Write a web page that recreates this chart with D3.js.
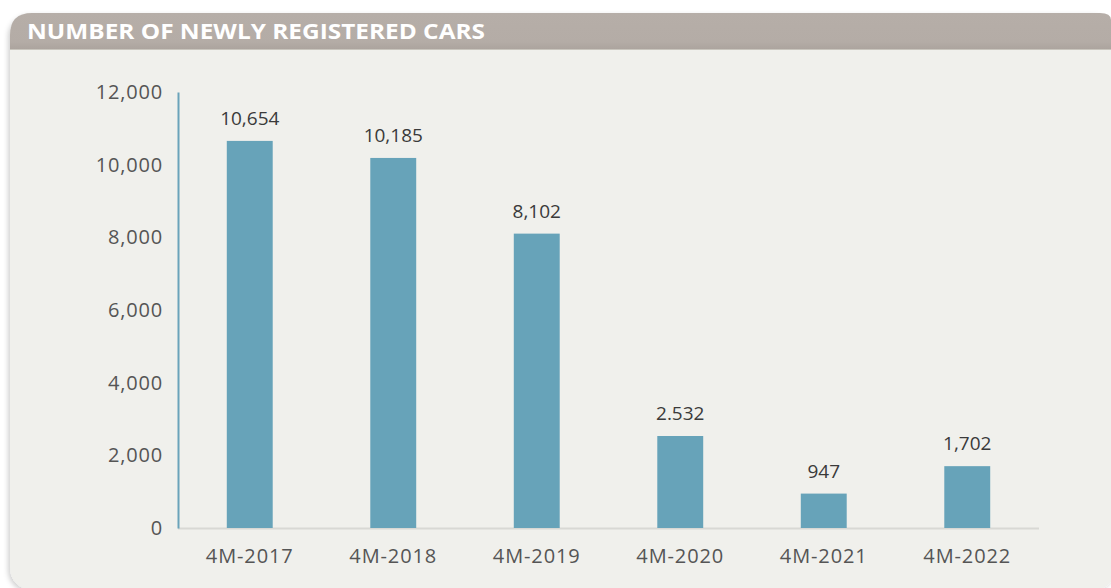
<!DOCTYPE html>
<html lang="en">
  <head>
    <meta charset="UTF-8" />
    <title>Number of newly registered cars</title>
    <script src="https://cdn.jsdelivr.net/npm/d3@7"></script>
    <style>
      body { margin: 0; background: #fff; }
      svg { display: block; font-family: "Open Sans", "Noto Sans", sans-serif; }
    </style>
  </head>
  <body>
    <svg id="chart" width="1111" height="588"></svg>
    <script>
      var periods = ["4M-2017", "4M-2018", "4M-2019", "4M-2020", "4M-2021", "4M-2022"];
      var cars = [10654, 10185, 8102, 2532, 947, 1702];
      var carLabels = ["10,654", "10,185", "8,102", "2.532", "947", "1,702"];
      var yTicks = [0, 2000, 4000, 6000, 8000, 10000, 12000];

      var svg = d3.select("#chart");

      // panel + header
      var defs = svg.append("defs");
      var f = defs.append("filter").attr("id", "shadow")
        .attr("x", "-5%").attr("y", "-5%").attr("width", "110%").attr("height", "110%");
      f.append("feDropShadow").attr("dx", -2).attr("dy", 2)
        .attr("stdDeviation", 2.5).attr("flood-color", "#000").attr("flood-opacity", 0.18);
      var g = defs.append("linearGradient").attr("id", "head").attr("x1", 0).attr("y1", 0).attr("x2", 0).attr("y2", 1);
      g.append("stop").attr("offset", "0%").attr("stop-color", "#b6aea8");
      g.append("stop").attr("offset", "80%").attr("stop-color", "#b4aca6");
      g.append("stop").attr("offset", "100%").attr("stop-color", "#aca49e");

      svg.append("rect")
        .attr("x", 10).attr("y", 13).attr("width", 1106).attr("height", 577)
        .attr("rx", 22).attr("fill", "#f0f0ec")
        .attr("filter", "url(#shadow)");

      svg.append("path")
        .attr("d", "M10,49 L10,35 Q10,13 32,13 L1100,13 Q1111,13 1111,20 L1111,49 Z")
        .attr("fill", "url(#head)");
      svg.append("line")
        .attr("x1", 10).attr("x2", 1111).attr("y1", 49.5).attr("y2", 49.5)
        .attr("stroke", "#c9c5bd").attr("stroke-width", 1);

      svg.append("text")
        .attr("x", 27).attr("y", 39)
        .attr("fill", "#fff")
        .attr("font-size", 21).attr("font-weight", 700)
        .attr("textLength", 458).attr("lengthAdjust", "spacingAndGlyphs")
        .text("NUMBER OF NEWLY REGISTERED CARS");

      var margin = { left: 178, right: 1039, top: 92, bottom: 528 };

      var x = d3.scaleBand()
        .domain(periods)
        .range([margin.left, margin.right])
        .paddingInner(0.68)
        .paddingOuter(0.34);

      var y = d3.scaleLinear()
        .domain([0, 12000])
        .range([margin.bottom, margin.top]);

      // baseline
      svg.append("line")
        .attr("x1", margin.left).attr("x2", margin.right)
        .attr("y1", y(0) + 0.5).attr("y2", y(0) + 0.5)
        .attr("stroke", "#d8d8d4").attr("stroke-width", 2);

      // bars
      svg.selectAll(".bar")
        .data(cars)
        .enter()
        .append("rect")
        .attr("class", "bar")
        .attr("x", function(d, i) { return x(periods[i]); })
        .attr("width", x.bandwidth())
        .attr("y", function(d) { return y(d); })
        .attr("height", function(d) { return y(0) - y(d); })
        .attr("fill", "#67a3b9");

      // value labels
      svg.selectAll(".val")
        .data(cars)
        .enter()
        .append("text")
        .attr("class", "val")
        .attr("x", function(d, i) { return x(periods[i]) + x.bandwidth() / 2; })
        .attr("y", function(d) { return y(d) - 16; })
        .attr("text-anchor", "middle")
        .attr("font-size", 19)
        .attr("fill", "#3a3a3a")
        .text(function(d, i) { return carLabels[i]; });

      // y axis
      var yAxis = d3.axisLeft(y)
        .tickValues(yTicks)
        .tickSize(0)
        .tickPadding(15)
        .tickFormat(d3.format(","));
      var ya = svg.append("g")
        .attr("class", "y-axis")
        .attr("transform", "translate(" + margin.left + ",0)")
        .call(yAxis);
      ya.select(".domain").attr("stroke", "#6aa3ba").attr("stroke-width", 2);
      ya.selectAll("text")
        .attr("font-size", 20).attr("fill", "#555")
        .attr("letter-spacing", 0.8)
        .attr("font-family", "'Open Sans', 'Noto Sans', sans-serif");

      // x axis
      var xAxis = d3.axisBottom(x).tickSize(0).tickPadding(21);
      var xa = svg.append("g")
        .attr("class", "x-axis")
        .attr("transform", "translate(0," + margin.bottom + ")")
        .call(xAxis);
      xa.select(".domain").remove();
      xa.selectAll("text")
        .attr("font-size", 20).attr("fill", "#555")
        .attr("letter-spacing", 0.9)
        .attr("font-family", "'Open Sans', 'Noto Sans', sans-serif");
    </script>
  </body>
</html>
